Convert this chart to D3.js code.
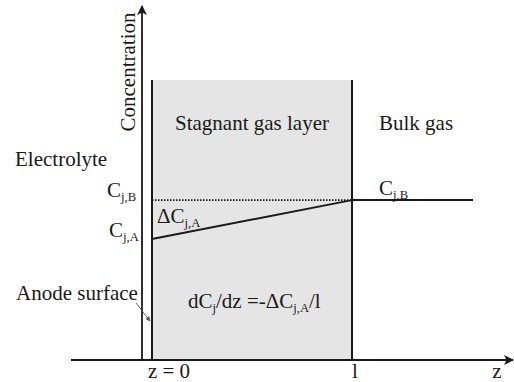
<!DOCTYPE html>
<html><head><meta charset="utf-8">
<script src="https://cdn.jsdelivr.net/npm/d3@7"></script>
<style>
html,body{margin:0;padding:0;background:#fff;}
</style></head>
<body><svg id="c" width="514" height="382"></svg>
<script>
// Film model: concentration profile across the stagnant gas layer
const zDomain = [0, 1];           // z = 0 at anode surface, z = l at layer edge
const concDomain = [0, 1];
const profileZ = [0, 1];          // linear profile endpoints
const profileC = [0.432, 0.571];  // C_j,A at z=0, C_j,B at z=l
const bulkZ = [1, 1.605];         // bulk gas region stays at C_j,B
const bulkC = [0.571, 0.571];
const xTickLabels = ["z = 0", "l"];

const FONT = "Liberation Serif";
const svg = d3.select("#c");
const x = d3.scaleLinear().domain(zDomain).range([152, 352]);
const y = d3.scaleLinear().domain(concDomain).range([360, 80]);
const ink = "#1a1a1a";

// stagnant layer shading
svg.append("rect")
  .attr("x", x(0)).attr("y", y(1))
  .attr("width", x(1) - x(0)).attr("height", y(0) - y(1))
  .attr("fill", "#e5e5e5");

// axes
const defs = svg.append("defs");
defs.append("marker").attr("id", "ah").attr("viewBox", "0 0 10 10")
  .attr("refX", 9).attr("refY", 5).attr("markerWidth", 10).attr("markerHeight", 10)
  .attr("markerUnits", "userSpaceOnUse").attr("orient", "auto")
  .append("path").attr("d", "M0,0 L10,5 L0,10 L2.5,5 Z").attr("fill", ink);
defs.append("marker").attr("id", "sa").attr("viewBox", "0 0 10 10")
  .attr("refX", 9).attr("refY", 5).attr("markerWidth", 5).attr("markerHeight", 5)
  .attr("markerUnits", "userSpaceOnUse").attr("orient", "auto")
  .append("path").attr("d", "M0,0 L10,5 L0,10 Z").attr("fill", "#555");

svg.append("line").attr("x1", 71).attr("y1", y(0)).attr("x2", 513).attr("y2", y(0))
  .attr("stroke", ink).attr("stroke-width", 1.8).attr("marker-end", "url(#ah)");
svg.append("line").attr("x1", 142).attr("y1", y(0)).attr("x2", 142).attr("y2", 6)
  .attr("stroke", ink).attr("stroke-width", 1.8).attr("marker-end", "url(#ah)");

// layer boundaries
[0, 1].forEach(v => {
  svg.append("line").attr("x1", x(v)).attr("x2", x(v))
    .attr("y1", y(1)).attr("y2", y(0))
    .attr("stroke", ink).attr("stroke-width", 2);
});

// bulk concentration reference (dotted) inside the layer
svg.append("line").attr("x1", x(0)).attr("x2", x(1))
  .attr("y1", y(profileC[1])).attr("y2", y(profileC[1]))
  .attr("stroke", ink).attr("stroke-width", 1.6).attr("stroke-dasharray", "1.5,1.5");

const line = d3.line().x(d => x(d[0])).y(d => y(d[1]));
svg.append("path").attr("d", line(d3.zip(profileZ, profileC)))
  .attr("fill", "none").attr("stroke", ink).attr("stroke-width", 2);
svg.append("path").attr("d", line(d3.zip(bulkZ, bulkC)))
  .attr("fill", "none").attr("stroke", ink).attr("stroke-width", 2);

// text helpers
function label(px, py, parts, size, anchor) {
  const t = svg.append("text").attr("x", px).attr("y", py)
    .style("font-family", FONT).style("font-size", size + "px")
    .attr("fill", ink).attr("text-anchor", anchor || "start");
  parts.forEach(p => {
    const s = t.append("tspan").text(p.t);
    if (p.sub) s.style("font-size", (size * 0.6) + "px").attr("dy", 4);
    if (p.up) s.attr("dy", -4);
  });
  return t;
}
const F = 21;

svg.append("text").attr("transform", "translate(135,72) rotate(-90)")
  .style("font-family", FONT).style("font-size", F + "px").attr("fill", ink)
  .attr("text-anchor", "middle").text("Concentration");

label(175, 130, [{t: "Stagnant gas layer"}], F);
label(379, 130, [{t: "Bulk gas"}], F);
label(15, 166, [{t: "Electrolyte"}], F);
label(16, 300, [{t: "Anode surface"}], F);

label(107, 197, [{t: "C"}, {t: "j,B", sub: true}], F);
label(109, 237, [{t: "C"}, {t: "j,A", sub: true}], F);
label(379, 195, [{t: "C"}, {t: "j,B", sub: true}], F);
label(157, 223, [{t: "ΔC"}, {t: "j,A", sub: true}], F);
label(188, 308, [{t: "dC"}, {t: "j", sub: true}, {t: "/dz =-ΔC", up: true}, {t: "j,A", sub: true}, {t: "/l", up: true}], F);

// tick labels on z axis
label(x(0) + 17, 378, [{t: xTickLabels[0]}], F, "middle");
label(x(1) + 3, 378, [{t: xTickLabels[1]}], F, "middle");
label(497, 378, [{t: "z"}], F, "middle");

// pointer to anode surface
svg.append("line").attr("x1", 136).attr("y1", 303).attr("x2", 150).attr("y2", 321)
  .attr("stroke", "#555").attr("stroke-width", 0.9).attr("marker-end", "url(#sa)");
</script></body></html>
